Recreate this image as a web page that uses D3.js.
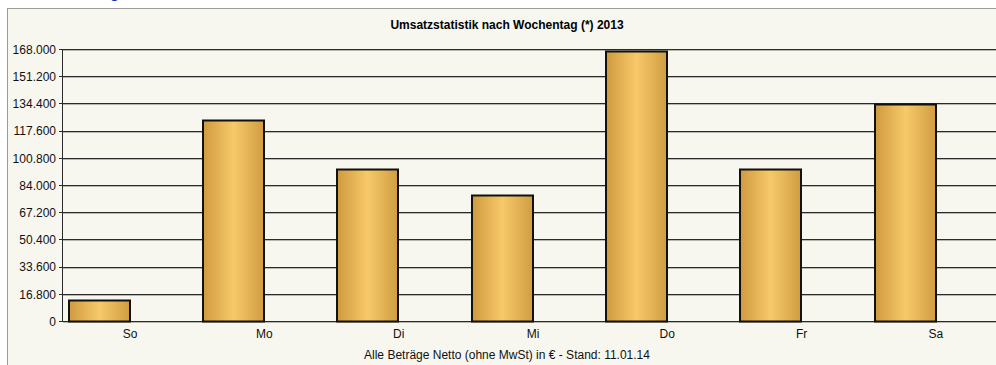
<!DOCTYPE html>
<html>
<head>
<meta charset="utf-8">
<script src="https://cdn.jsdelivr.net/npm/d3@7"></script>
<style>
  html, body { margin: 0; padding: 0; background: #ffffff; }
  svg { display: block; }
</style>
</head>
<body>
<svg id="chart" width="996" height="365"></svg>
<script>
// Weekday revenue 2013 (net, EUR)
const categories = ["So", "Mo", "Di", "Mi", "Do", "Fr", "Sa"];
const revenue = [13000, 124000, 94000, 78000, 167000, 94000, 134000];
const tickValues = [0, 16800, 33600, 50400, 67200, 84000, 100800, 117600, 134400, 151200, 168000];
const title = "Umsatzstatistik nach Wochentag (*) 2013";
const footer = "Alle Beträge Netto (ohne MwSt) in €  -  Stand: 11.01.14";

const svg = d3.select("#chart");
const W = 996, H = 365;
const plot = { left: 63, right: 1003, top: 49, bottom: 321 };
const font = "'Liberation Sans', Arial, sans-serif";

const de = d3.formatLocale({ decimal: ",", thousands: ".", grouping: [3], currency: ["", " €"] });
const fmt = de.format(",d");

// panel background and frame
svg.append("rect").attr("x", 0).attr("y", 0).attr("width", W).attr("height", H).attr("fill", "#ffffff");
svg.append("rect").attr("x", 7.5).attr("y", 8.5).attr("width", W + 10).attr("height", H + 10)
  .attr("fill", "#f7f7ef").attr("stroke", "#9a9a9a").attr("stroke-width", 1);

// heading fragment above the panel
svg.append("text").attr("x", 110).attr("y", -2).attr("fill", "#1a33b8")
  .attr("font-family", font).attr("font-size", 16).text("g");

const x = d3.scaleBand().domain(categories).range([plot.left, plot.right]).paddingInner(0).paddingOuter(0);
const y = d3.scaleLinear().domain([0, 168000]).range([plot.bottom, plot.top]);

// gradient fill for the bars
const defs = svg.append("defs");
const grad = defs.append("linearGradient").attr("id", "barGrad").attr("x1", "0").attr("x2", "1").attr("y1", "0").attr("y2", "0");
grad.append("stop").attr("offset", "0%").attr("stop-color", "#cf9a3e");
grad.append("stop").attr("offset", "50%").attr("stop-color", "#f7c969");
grad.append("stop").attr("offset", "100%").attr("stop-color", "#d09d42");

// gridlines with a light shadow line underneath
const grid = svg.append("g");
grid.selectAll("line.shadow").data(tickValues).join("line").attr("class", "shadow")
  .attr("x1", plot.left).attr("x2", W)
  .attr("y1", d => Math.round(y(d)) + 1.5).attr("y2", d => Math.round(y(d)) + 1.5)
  .attr("stroke", "#b8b8b0").attr("stroke-width", 1);
grid.selectAll("line.main").data(tickValues).join("line").attr("class", "main")
  .attr("x1", plot.left - 4).attr("x2", W)
  .attr("y1", d => Math.round(y(d)) + 0.5).attr("y2", d => Math.round(y(d)) + 0.5)
  .attr("stroke", "#2a2a2a").attr("stroke-width", 1);

// y axis line
svg.append("line").attr("x1", plot.left - 0.5).attr("x2", plot.left - 0.5)
  .attr("y1", plot.top).attr("y2", plot.bottom + 1)
  .attr("stroke", "#2a2a2a").attr("stroke-width", 1);

// y tick labels
const yAxis = d3.axisLeft(y).tickValues(tickValues).tickFormat(fmt).tickSize(0).tickPadding(6);
const ya = svg.append("g").attr("transform", `translate(${plot.left - 1},0)`).call(yAxis);
ya.select(".domain").remove();
ya.selectAll("text").attr("font-family", font).attr("font-size", 12).attr("fill", "#111")
  .attr("dy", "0.36em");

// bars occupy the left half of each weekday slot
const step = x.step();
svg.append("g").selectAll("rect").data(categories).join("rect")
  .attr("x", d => Math.round(x(d) + step * 0.036) + 1)
  .attr("y", (d, i) => Math.round(y(revenue[i])) + 0.5)
  .attr("width", d => Math.round(step * 0.464) - 1)
  .attr("height", (d, i) => Math.round(plot.bottom - y(revenue[i])))
  .attr("fill", "url(#barGrad)")
  .attr("stroke", "#111").attr("stroke-width", 2);

// x tick labels at the centre of each slot
const xAxis = d3.axisBottom(x).tickSize(0).tickPadding(8);
const xa = svg.append("g").attr("transform", `translate(0,${plot.bottom})`).call(xAxis);
xa.select(".domain").remove();
xa.selectAll("text").attr("font-family", font).attr("font-size", 12).attr("fill", "#111");

// title and footer
svg.append("text").attr("x", 507).attr("y", 29).attr("text-anchor", "middle")
  .attr("font-family", font).attr("font-size", 12).attr("font-weight", "bold").attr("fill", "#000")
  .text(title);
svg.append("text").attr("x", 507).attr("y", 359).attr("text-anchor", "middle")
  .attr("font-family", font).attr("font-size", 12).attr("fill", "#111")
  .text(footer);
</script>
</body>
</html>
